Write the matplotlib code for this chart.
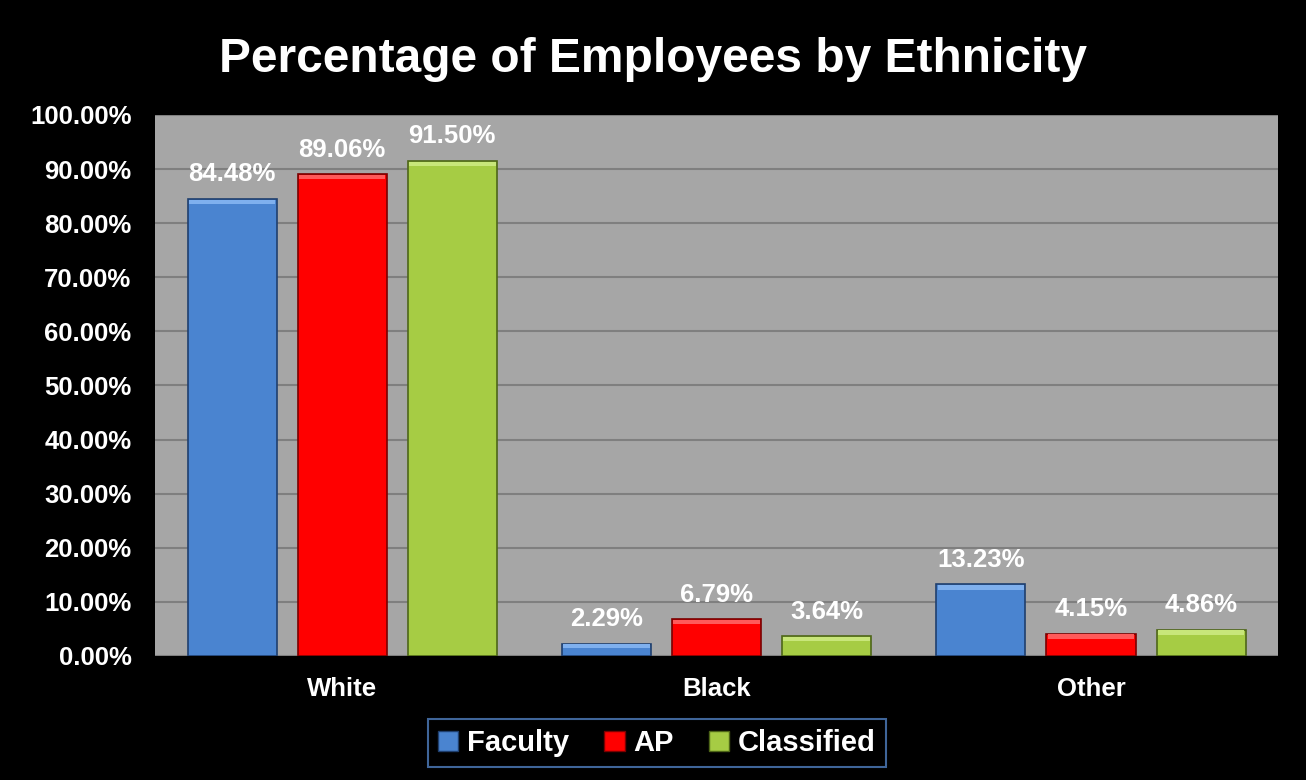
import numpy as np
import matplotlib
matplotlib.use("Agg")
import matplotlib.pyplot as plt
from matplotlib.patches import Patch
from matplotlib.ticker import FuncFormatter

# data
categories = ["White", "Black", "Other"]
series_names = ["Faculty", "AP", "Classified"]
faculty = [84.48, 2.29, 13.23]
ap = [89.06, 6.79, 4.15]
classified = [91.50, 3.64, 4.86]

colors = ["#4A84D0", "#FF0000", "#A6CC44"]
edges = ["#1F3F6E", "#7A0000", "#4E6618"]
tops = ["#7FB0EE", "#FF5A5A", "#C8E67A"]

plt.rcParams['font.family'] = ['Liberation Sans', 'DejaVu Sans']

fig = plt.figure(figsize=(13.06, 7.80), dpi=100, facecolor="black")
ax = fig.add_axes([0.1187, 0.159, 0.86, 0.6936])
ax.set_facecolor("#A6A6A6")

x = np.arange(len(categories))
width = 0.238
offsets = [-0.294, 0.0, 0.294]
for vals, off, c, ec, tc, name in zip([faculty, ap, classified], offsets, colors, edges, tops, series_names):
    bars = ax.bar(x + off, vals, width, color=c, edgecolor=ec, linewidth=1.2, zorder=3, label=name)
    for b, v in zip(bars, vals):
        # light bevel along the top of each bar
        ax.bar(b.get_x() + b.get_width() / 2, min(0.8, v * 0.3), width * 0.97,
               bottom=v - min(0.8, v * 0.3) - 0.15, color=tc, linewidth=0, zorder=3.5)
        ax.annotate("{:.2f}%".format(v), (b.get_x() + b.get_width() / 2, v),
                    xytext=(0, 9), textcoords="offset points", ha="center", va="bottom",
                    color="white", fontsize=18.5, fontweight="bold", zorder=4)

ax.set_xlim(-0.5, 2.5)
ax.set_ylim(0, 100)
ax.set_yticks(np.arange(0, 101, 10))
ax.yaxis.set_major_formatter(FuncFormatter(lambda v, p: "{:.2f}%".format(v)))
ax.set_xticks(x)
ax.set_xticklabels(categories)
ax.grid(axis="y", color="#7F7F7F", linewidth=1.5, zorder=0)
for s in ax.spines.values():
    s.set_visible(False)
ax.tick_params(colors="white", length=0, labelsize=18.5)
ax.tick_params(axis="y", pad=17)
ax.tick_params(axis="x", pad=15)
for lab in ax.get_xticklabels() + ax.get_yticklabels():
    lab.set_fontweight("bold")

fig.text(0.5, 0.924, "Percentage of Employees by Ethnicity", ha="center", va="center",
         color="white", fontsize=34.5, fontweight="bold")

handles = [Patch(facecolor=c, edgecolor=ec) for c, ec in zip(colors, edges)]
leg = fig.legend(handles, series_names, loc="center", bbox_to_anchor=(0.503, 0.0475), ncol=3,
                 frameon=True, facecolor="black", edgecolor="#4F7FC0", fontsize=21,
                 handlelength=0.7, handleheight=0.7, handletextpad=0.3, columnspacing=1.2,
                 borderpad=0.35, fancybox=False)
leg.get_frame().set_linewidth(1.5)
for t in leg.get_texts():
    t.set_color("white")
    t.set_fontweight("bold")

fig.savefig("out.png", dpi=100, facecolor="black")
